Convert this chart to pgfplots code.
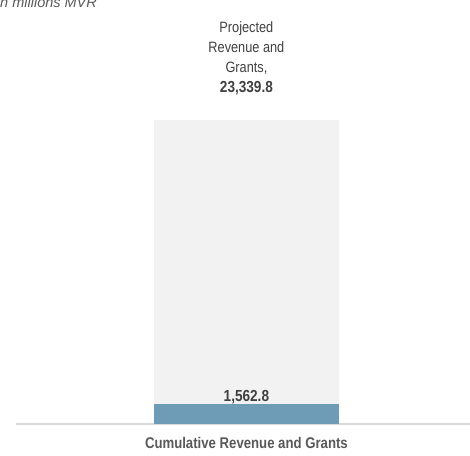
\documentclass[border=0pt]{standalone}
\usepackage{pgfplots}
\pgfplotsset{compat=1.18}
\usepackage{fontspec}
\setmainfont{Liberation Sans}[FakeStretch=0.85]
\newfontfamily\plainsans{Liberation Sans}

\definecolor{barbg}{HTML}{F2F2F2}
\definecolor{barblue}{HTML}{6E9BB5}
\definecolor{baseline}{HTML}{D9D9D9}
\definecolor{txtdark}{HTML}{404040}
\definecolor{txtmid}{HTML}{595959}

\pgfkeys{/pgf/number format/.cd, fixed, fixed zerofill, precision=1, 1000 sep={,}, assume math mode=true}

\begin{document}
\begin{tikzpicture}
\useasboundingbox (0,0) rectangle (470pt,455pt);
% caption at the top, cut by the page edge as in the original
\node[anchor=base west, inner sep=0pt, font=\plainsans\itshape\fontsize{14.5}{16}\selectfont, text=txtmid]
  at (-4pt,447.5pt) {In millions MVR};
\begin{axis}[
    at={(16pt,31pt)}, anchor=south west,
    scale only axis,
    width=454pt, height=304pt,
    ybar, bar width=185pt, bar shift=0pt,
    xmin=-1.015, xmax=0.985,
    ymin=0, ymax=23339.8,
    enlargelimits=false,
    axis x line*=bottom,
    axis y line=none,
    x axis line style={draw=baseline, line width=1.5pt, -},
    xtick={0},
    xticklabels={\textbf{Cumulative Revenue and Grants}},
    major tick length=0pt,
    xticklabel style={anchor=base, yshift=-24pt, text=txtmid,
        font=\fontsize{15.5}{17}\selectfont},
    ytick=\empty,
    clip=false,
    point meta=y,
]
  % projected total (background bar)
  \addplot[fill=barbg, draw=none,
    nodes near coords={Projected\\Revenue and\\Grants,\\\textbf{\fontsize{16}{20}\selectfont\pgfmathprintnumber{\pgfplotspointmeta}}},
    every node near coord/.append style={align=center, anchor=south, yshift=21pt,
        text=txtdark, font=\fontsize{15}{20}\selectfont}]
    coordinates {(0,23339.8)};
  % cumulative so far
  \addplot[fill=barblue, draw=none,
    nodes near coords={\textbf{\pgfmathprintnumber{\pgfplotspointmeta}}},
    every node near coord/.append style={anchor=base, yshift=2pt,
        text=txtdark, font=\fontsize{16}{18}\selectfont}]
    coordinates {(0,1562.8)};
\end{axis}
\end{tikzpicture}
\end{document}
